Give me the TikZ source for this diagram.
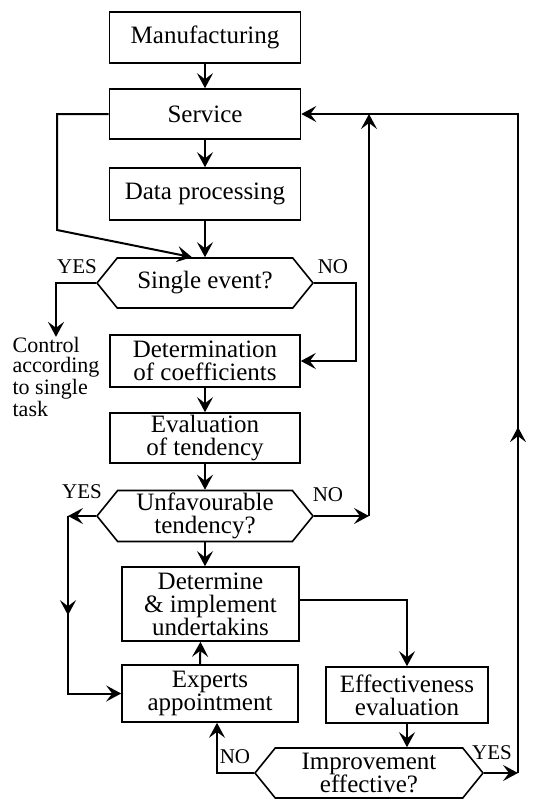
\documentclass[tikz,border=0pt]{standalone}
\usepackage{fontspec}
\setmainfont{Liberation Serif}
\newfontfamily\flowfont{Liberation Serif}
\usetikzlibrary{arrows.meta, shapes.symbols, decorations.markings}

\begin{document}
\begin{tikzpicture}[x=0.5pt, y=-0.5pt]

\tikzset{box/.style = {draw, line width=0.8pt, inner sep=1pt, align=center, font=\flowfont\fontsize{12.5}{11.5}\selectfont}}
\tikzset{decision/.style = {box, shape=signal, signal to=east and west, signal pointer angle=102}}
\tikzset{edge/.style = {->, line width=1pt, > = {Stealth[length=7.5pt,width=8pt,inset=3pt]}}}
\tikzset{mid arrow/.style = {postaction={decorate, decoration={markings, mark=at position #1 with {\arrow{Stealth[length=7.5pt,width=8pt,inset=3pt]}}}}}}
\tikzset{answer/.style = {inner sep=0pt, font=\flowfont\fontsize{10.5}{11}\selectfont}}

\useasboundingbox (0,0) rectangle (544,800);

%boxes
\node[box, minimum width=95.5pt, minimum height=25.5pt] (manuf) at (205,37.5) {Manufacturing};
\node[box, minimum width=95.5pt, minimum height=25pt] (service) at (205,114) {Service};
\node[box, minimum width=95.5pt, minimum height=26pt] (data) at (205,194) {Data processing};
\node[decision, minimum width=108pt, minimum height=25pt] (single) at (205,283) {Single event?};
\node[box, minimum width=95pt, minimum height=26pt] (coeff) at (205,361) {Determination\\of coefficients};
\node[box, minimum width=95pt, minimum height=25pt] (tend) at (205,438) {Evaluation\\of tendency};
\node[decision, minimum width=108pt, minimum height=25.5pt] (unfav) at (205,516) {Unfavourable\\tendency?};
\node[box, minimum width=88.5pt, minimum height=37pt] (determine) at (210.5,604) {Determine\\\& implement\\undertakins};
\node[box, minimum width=88pt, minimum height=28.5pt] (experts) at (210,693.5) {Experts\\appointment};
\node[box, minimum width=81pt, minimum height=28pt] (effect) at (407,695) {Effectiveness\\evaluation};
\node[decision, minimum width=114pt, minimum height=25pt] (improve) at (369,773) {Improvement\\effective?};
\node[inner sep=0pt, align=left, font=\flowfont\fontsize{11}{10}\selectfont] (ctrl) at (56,377) {Control\\according\\to single\\task};

%answers
\node[answer] (yesA) at (77,267) {YES};
\node[answer] (noA) at (333,267) {NO};
\node[answer] (yesB label) at (82,492) {YES};
\node[answer] (noB label) at (328,495) {NO};
\node[answer] (noC) at (235,757) {NO};
\node[answer] (yesC label) at (492,753) {YES};

%corners
\coordinate (sv1) at (57,230);
\coordinate (yesB) at (68,516);
\coordinate (noB) at (369,516);
\coordinate (yesC) at (518,773);

%edges
\draw[edge] (manuf.south) -- (service.north);
\draw[edge] (service.south) -- (data.north);
\draw[edge] (data.south) -- (single.north);
\draw[edge] (service.west) -| (sv1) -- ([xshift=-6.5pt]single.north);
\draw[edge] (single.west) -| (ctrl.north);
\draw[edge] (single.east) -- ++(42,0) |- (coeff.east);
\draw[edge] (coeff.south) -- (tend.north);
\draw[edge] (tend.south) -- (unfav.north);
\draw[edge] (unfav.south) -- (unfav.south |- determine.north);
\draw[edge] (unfav.west) -- (yesB);
\draw[edge, mid arrow=0.43] (yesB) |- (experts.west);
\draw[edge] (unfav.east) -- (noB);
\draw[edge] (noB) -- (noB |- service.east);
\draw[edge] ([xshift=-5pt]experts.north) -- ([xshift=-5pt]determine.south);
\draw[edge] ([yshift=2pt]determine.east) -| (effect.north);
\draw[edge] (effect.south) -- (effect.south |- improve.north);
\draw[edge] (improve.west) -| ([xshift=3.5pt]experts.south);
\draw[edge] (improve.east) -- (yesC);
\draw[edge, mid arrow=0.395] (yesC) |- (service.east);

\end{tikzpicture}
\end{document}
